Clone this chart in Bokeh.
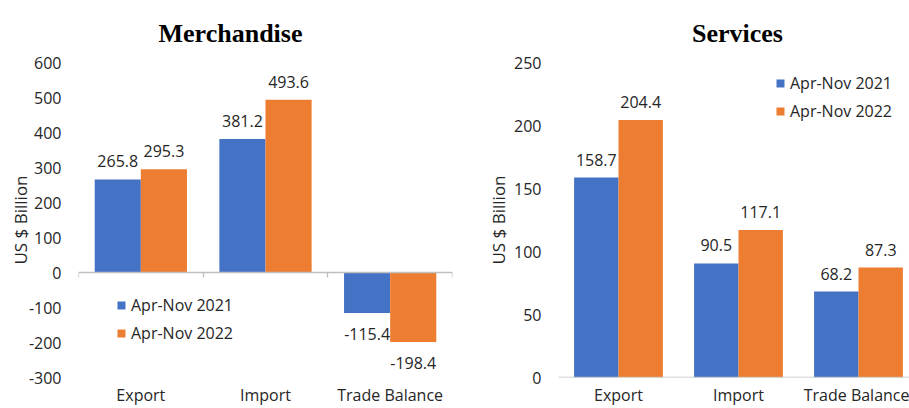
from bokeh.plotting import figure
from bokeh.layouts import row, column
from bokeh.models import ColumnDataSource, Range1d, FixedTicker, LinearAxis
from bokeh.core.properties import value
from bokeh.embed import file_html
from bokeh.resources import INLINE

# ---- data ----
categories = ["Export", "Import", "Trade Balance"]
series_names = ["Apr-Nov 2021", "Apr-Nov 2022"]
merch_2021 = [265.8, 381.2, -115.4]
merch_2022 = [295.3, 493.6, -198.4]
serv_2021 = [158.7, 90.5, 68.2]
serv_2022 = [204.4, 117.1, 87.3]
merch_ticks = [-300, -200, -100, 0, 100, 200, 300, 400, 500, 600]
serv_ticks = [0, 50, 100, 150, 200, 250]
titles = ["Merchandise", "Services"]

BLUE = "#4472C4"
ORANGE = "#ED7D31"
TEXT = "#262626"
AXIS = "#BFBFBF"
FONT = "Open Sans"
BAR_W = 0.37
TITLE_H = 50


def make_title(text, width, center_x):
    t = figure(width=width, height=TITLE_H, x_range=Range1d(0, width),
               y_range=Range1d(0, TITLE_H), min_border=0,
               output_backend="svg", toolbar_location=None,
               x_axis_type=None, y_axis_type=None, outline_line_color=None,
               background_fill_color="white", border_fill_color="white")
    t.grid.visible = False
    t.text(x=[center_x], y=[TITLE_H - 33], text=[text],
           text_align="center", text_baseline="alphabetic",
           text_font=value("Liberation Serif"), text_font_size="26px",
           text_font_style="bold", text_color="black")
    return t


def make_chart(v21, v22, ticks, width, border_left, border_right, x_end,
               legend_loc, ylabel_standoff):
    n = len(categories)
    centers = [i + 0.5 for i in range(n)]
    p = figure(x_range=Range1d(0, x_end),
               y_range=Range1d(ticks[0], ticks[-1]),
               width=width, height=408 - TITLE_H,
               output_backend="svg", toolbar_location=None,
               min_border_left=border_left, min_border_right=border_right,
               min_border_top=62 - TITLE_H, min_border_bottom=31,
               outline_line_color=None, x_axis_type=None,
               background_fill_color="white", border_fill_color="white")
    p.xgrid.visible = False
    p.ygrid.visible = False

    src = ColumnDataSource(dict(
        cat=categories, v21=v21, v22=v22,
        x21=[c - BAR_W / 2 for c in centers], x22=[c + BAR_W / 2 for c in centers],
        t21=[f"{v:.1f}" for v in v21], t22=[f"{v:.1f}" for v in v22],
        o21=[-18 if v >= 0 else 21 for v in v21],
        o22=[-18 if v >= 0 else 21 for v in v22],
    ))

    for key, col, name in (("21", BLUE, series_names[0]),
                           ("22", ORANGE, series_names[1])):
        p.vbar(x="x" + key, top="v" + key, width=BAR_W, source=src,
               fill_color=col, line_color=None, legend_label=name)
        p.text(x="x" + key, y="v" + key, text="t" + key, y_offset="o" + key,
               text_align="center", text_baseline="middle",
               text_font=value(FONT), text_font_size="16px",
               text_color=TEXT, source=src)

    # category labels at the bottom
    xa = LinearAxis(ticker=FixedTicker(ticks=centers),
                    major_label_overrides={c: lab for c, lab in zip(centers, categories)},
                    axis_line_color=None, major_tick_line_color=None,
                    major_tick_in=0, major_tick_out=0,
                    minor_tick_line_color=None, minor_tick_in=0, minor_tick_out=0,
                    major_label_standoff=6,
                    major_label_text_font=FONT, major_label_text_font_size="16px",
                    major_label_text_color=TEXT)
    p.add_layout(xa, "below")

    # zero line with category separator ticks (drawn at y = 0)
    edge_axis = LinearAxis(fixed_location=0,
                           ticker=FixedTicker(ticks=list(range(n + 1))),
                           major_label_text_color=None,
                           major_label_text_font_size="0px",
                           major_label_standoff=0,
                           major_tick_in=5, major_tick_out=0,
                           minor_tick_line_color=None, minor_tick_in=0, minor_tick_out=0,
                           axis_line_color=AXIS, axis_line_width=1.3,
                           major_tick_line_color=AXIS, major_tick_line_width=1.3)
    p.add_layout(edge_axis, "above")

    # value axis
    ya = p.yaxis[0]
    ya.ticker = FixedTicker(ticks=ticks)
    ya.major_label_overrides = {t: str(t) for t in ticks}
    ya.axis_line_color = None
    ya.major_tick_line_color = None
    ya.major_tick_in = 0
    ya.major_tick_out = 0
    ya.minor_tick_line_color = None
    ya.minor_tick_in = 0
    ya.minor_tick_out = 0
    ya.major_label_standoff = 17
    ya.major_label_text_font = FONT
    ya.major_label_text_font_size = "16px"
    ya.major_label_text_color = TEXT
    ya.axis_label = "US $ Billion"
    ya.axis_label_text_font = FONT
    ya.axis_label_text_font_size = "17px"
    ya.axis_label_text_font_style = "normal"
    ya.axis_label_text_color = TEXT
    ya.axis_label_standoff = ylabel_standoff

    leg = p.legend[0]
    leg.location = legend_loc
    leg.padding = 0
    leg.margin = 0
    leg.spacing = 6
    leg.glyph_width = 10
    leg.glyph_height = 10
    leg.label_standoff = 5
    leg.label_text_font = FONT
    leg.label_text_font_size = "16px"
    leg.label_text_color = TEXT
    leg.border_line_color = None
    leg.background_fill_alpha = 0
    return p


t1 = make_title(titles[0], 460, 230)
t2 = make_title(titles[1], 449, 277)
p1 = make_chart(merch_2021, merch_2022, merch_ticks,
                460, 78, 8, 3.0, (38, 33), -6)
p2 = make_chart(serv_2021, serv_2022, serv_ticks,
                449, 98, 0, 2.925, (217, 255), 1)

layout = column(row(t1, t2), row(p1, p2))
open("out.html", "w").write(file_html(layout, INLINE))
